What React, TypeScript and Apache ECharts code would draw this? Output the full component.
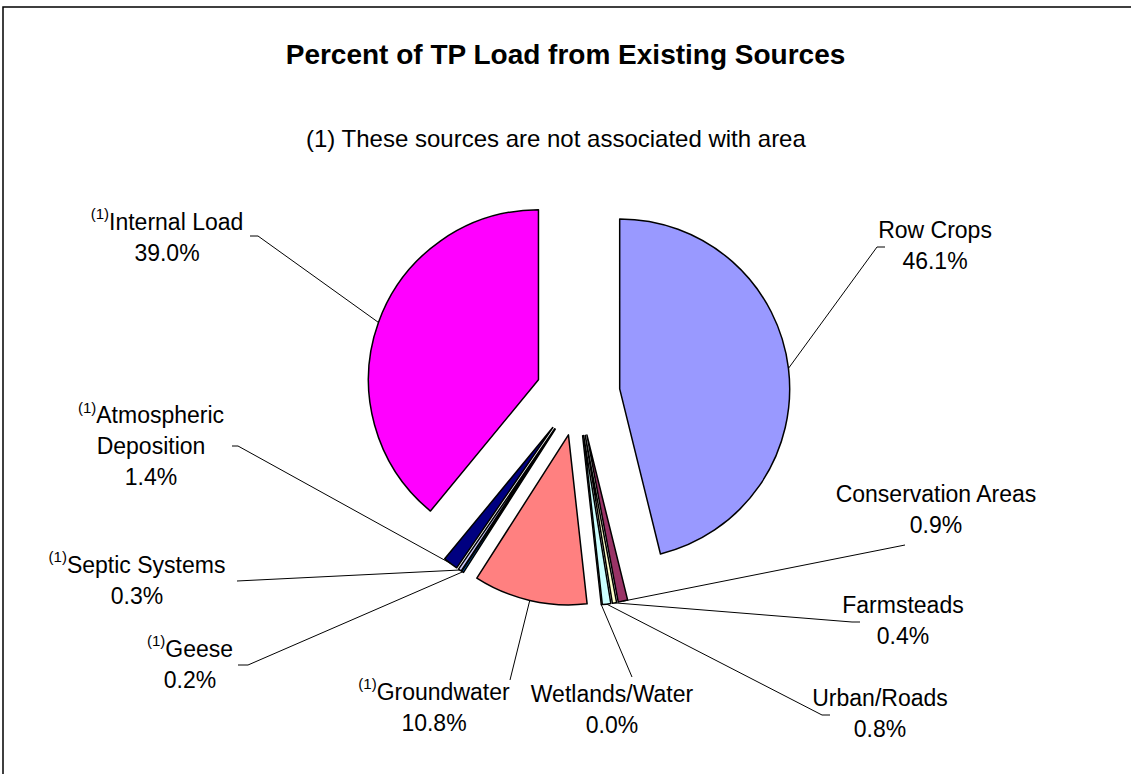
import { useEffect, useRef } from 'react';
import * as echarts from 'echarts';

// ---- data ----
const categories = [
  'Row Crops', 'Conservation Areas', 'Farmsteads', 'Urban/Roads', 'Wetlands/Water',
  'Groundwater', 'Geese', 'Septic Systems', 'Atmospheric Deposition', 'Internal Load',
];
const values = [46.1, 0.9, 0.4, 0.8, 0.0, 10.8, 0.2, 0.3, 1.4, 39.0];
// (1) = not associated with area
const notAreaSource = [false, false, false, false, false, true, true, true, true, true];
const labelNames = [
  ['Row Crops'], ['Conservation Areas'], ['Farmsteads'], ['Urban/Roads'], ['Wetlands/Water'],
  ['Groundwater'], ['Geese'], ['Septic Systems'], ['Atmospheric', 'Deposition'], ['Internal Load'],
];
const sliceColors = [
  '#9999FF', '#993366', '#FFFFCC', '#CCFFFF', '#660066',
  '#FF8080', '#0066CC', '#CCCCFF', '#000080', '#FF00FF',
];
const titleText = 'Percent of TP Load from Existing Sources';
const noteText = '(1) These sources are not associated with area';

// ---- layout (not data) ----
const CENTER = [578, 394];
const RADIUS = 170;
const EXPLODE = 42;
const labelCenters = [
  [935, 245], [936, 509], [903, 620], [880, 713], [612, 709],
  [434, 707], [190, 664], [137, 580], [151, 446], [167, 237],
];
const lineEnds = [
  [-50, 2], [-31, 36], [-43, 2], [-50, 2], [20, -32],
  [76, -27], [48, 1], [100, 1], [81, 0], [83, -1],
];
const shoulders = [-8, 0, -8, -8, 0, 0, 10, 0, 6, 8];

const FONT = '"Liberation Sans", Arial, sans-serif';

export default function App() {
  const ref = useRef<HTMLDivElement>(null);
  useEffect(() => {
    const chart = echarts.init(ref.current!, null, { renderer: 'svg' });
    const total = values.reduce((a, b) => a + b, 0);
    const cum: number[] = [];
    let acc = 0;
    values.forEach((v) => { cum.push(acc); acc += v; });
    const dirOf = (i: number) => {
      const theta = ((cum[i] + values[i] / 2) / total) * Math.PI * 2;
      return [Math.sin(theta), -Math.cos(theta)];
    };
    // exploded centre of each slice
    const sliceCenter = (i: number) => {
      const [dx, dy] = dirOf(i);
      return [CENTER[0] + EXPLODE * dx, CENTER[1] + EXPLODE * dy];
    };
    const arcPoint = (i: number) => {
      const [dx, dy] = dirOf(i);
      const c = sliceCenter(i);
      return [c[0] + RADIUS * dx, c[1] + RADIUS * dy];
    };

    const rich = {
      n: { fontSize: 23, lineHeight: 31, fontFamily: FONT, color: '#000' },
      sup: { fontSize: 15, lineHeight: 19, verticalAlign: 'top', fontFamily: FONT, color: '#000' },
    };

    const series = categories.map((_, s) => ({
      type: 'pie',
      center: sliceCenter(s),
      radius: RADIUS,
      startAngle: 90,
      clockwise: true,
      avoidLabelOverlap: false,
      silent: true,
      z: 2,
      data: categories.map((c, j) => (j === s
        ? {
          name: c, value: values[j],
          itemStyle: { color: sliceColors[j], borderColor: '#000', borderWidth: 1.5 },
          label: { show: true },
          labelLine: { show: true },
        }
        : {
          name: c, value: values[j],
          itemStyle: { color: 'rgba(0,0,0,0)', borderWidth: 0 },
          label: { show: false },
          labelLine: { show: false },
        })),
      label: {
        position: 'outside',
        formatter: (p: any) => {
          const i = p.dataIndex;
          const lines = labelNames[i].map((t) => `{n|${t}}`);
          if (notAreaSource[i]) lines[0] = `{sup|(1)}${lines[0]}`;
          lines.push(`{n|${values[i].toFixed(1)}%}`);
          return lines.join('\n');
        },
        rich,
      },
      labelLine: { lineStyle: { color: '#000', width: 1 } },
      labelLayout: (params: any) => {
        const i = params.dataIndex;
        const [lx, ly] = labelCenters[i];
        const end = [lx + lineEnds[i][0], ly + lineEnds[i][1]];
        const pts: number[][] = [arcPoint(i)];
        if (shoulders[i]) pts.push([end[0] + shoulders[i], end[1]]);
        pts.push(end);
        return { x: lx, y: ly, align: 'center', verticalAlign: 'middle', labelLinePoints: pts };
      },
    }));

    chart.setOption({
      animation: false,
      backgroundColor: '#fff',
      title: [
        {
          text: titleText, left: 'center', top: 35,
          textStyle: { fontSize: 28, fontWeight: 'bold', fontFamily: FONT, color: '#000' },
        },
        {
          text: noteText, left: 301, top: 121,
          textStyle: { fontSize: 24, fontWeight: 'normal', fontFamily: FONT, color: '#000' },
        },
      ],
      graphic: [
        {
          type: 'rect', silent: true,
          shape: { x: 3, y: 7, width: 1200, height: 900 },
          style: { fill: 'none', stroke: '#000', lineWidth: 1.5 },
        },
      ],
      series,
    });
    return () => chart.dispose();
  }, []);
  return (
    <div
      ref={ref}
      style={{ position: 'fixed', left: 0, top: 0, width: 1131, height: 774 }}
    />
  );
}
